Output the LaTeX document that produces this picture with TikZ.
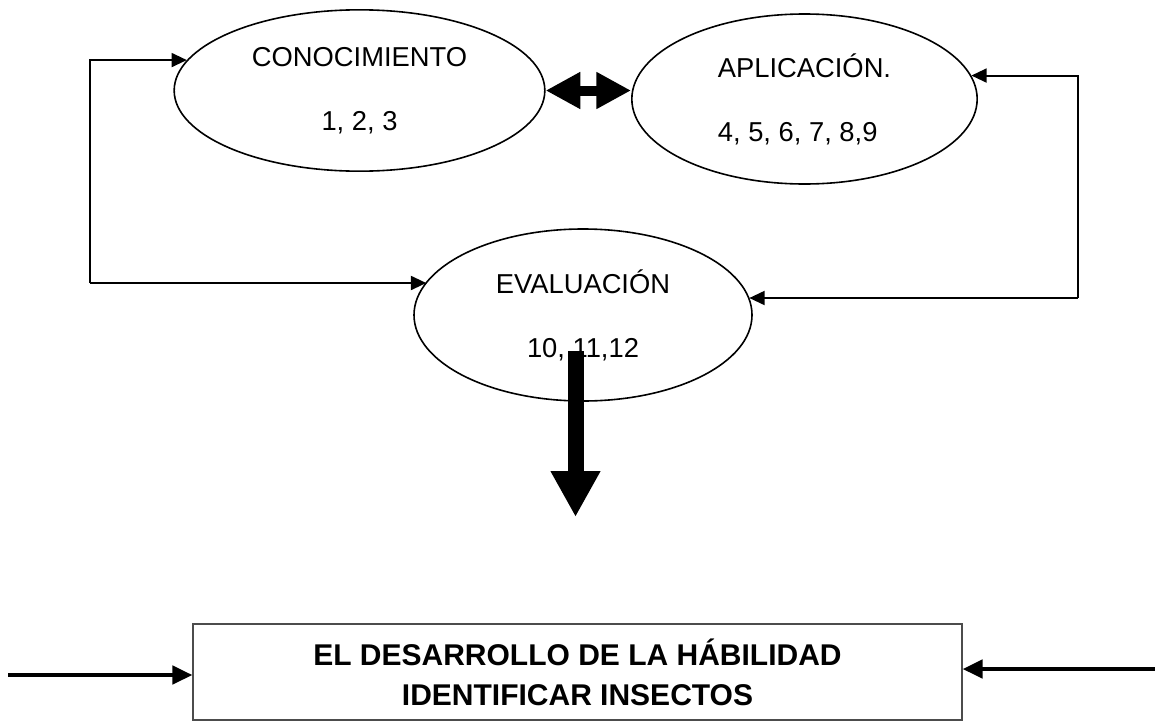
\documentclass[tikz,border=0pt]{standalone}
\usepackage{fontspec}
\setmainfont{Liberation Sans}
\usetikzlibrary{shapes.geometric,arrows.meta}

\begin{document}
\begin{tikzpicture}[x=0.75pt, y=-0.75pt,
		elipse/.style={ellipse, draw, line width=1.2pt, inner sep=0pt,
			font={\fontsize{20.5}{48}\selectfont}},
		conn/.style={line width=1.5pt, -{Triangle[length=11.5pt, width=10.5pt]}},
		gruesa/.style={line width=3.4pt, -{Triangle[length=15pt, width=13.5pt]}}]
		\useasboundingbox (0,0) rectangle (1155,721);
		
		% Ellipses
		\node[elipse, minimum width=278pt, minimum height=121pt, align=center] (con) at (359.5,90.5) {CONOCIMIENTO\\1, 2, 3};
		\node[elipse, minimum width=259pt, minimum height=127.5pt, align=left] (apl) at (804.5,99) {APLICACIÓN.\\4, 5, 6, 7, 8,9};
		\node[elipse, minimum width=253.5pt, minimum height=129pt, align=center] (eva) at (583,315) {EVALUACIÓN\\10, 11,12};
		
		% Result box
		\node[draw=gray!60!black, line width=0.8pt, minimum width=576.75pt, minimum height=72pt, align=center,
			font={\fontsize{22.5}{30}\selectfont\bfseries}] (box) at (577.5,672) {EL DESARROLLO DE LA HÁBILIDAD\\IDENTIFICAR INSECTOS};
		
		% Double arrow between the top ellipses
		\draw[line width=7.5pt, {Triangle[length=26pt, width=26pt]}-{Triangle[length=26pt, width=26pt]}] (con.east) -- (con.east -| apl.west);
		
		% Left loop
		\coordinate (lcorner) at (90,283);
		\draw[conn] (lcorner) |- (con.170);
		\draw[conn] (lcorner) -- (lcorner -| eva.168);
		
		% Right loop
		\coordinate (rcorner) at (1078,298);
		\draw[conn] (rcorner) |- (apl.8);
		\draw[conn] (rcorner) -- (rcorner -| eva.6);
		
		% Down arrow
		\coordinate (dstart) at (575.5,351);
		\coordinate (dend) at (575.5,517);
		\draw[line width=12pt, -{Triangle[length=34.5pt, width=35pt]}] (dstart) -- (dend);
		
		% Arrows into the box
		\coordinate (bl) at (8,675);
		\coordinate (br) at (1155,669);
		\draw[gruesa] (bl) -- (bl -| box.west);
		\draw[gruesa] (br) -- (br -| box.east);
	\end{tikzpicture}
\end{document}
